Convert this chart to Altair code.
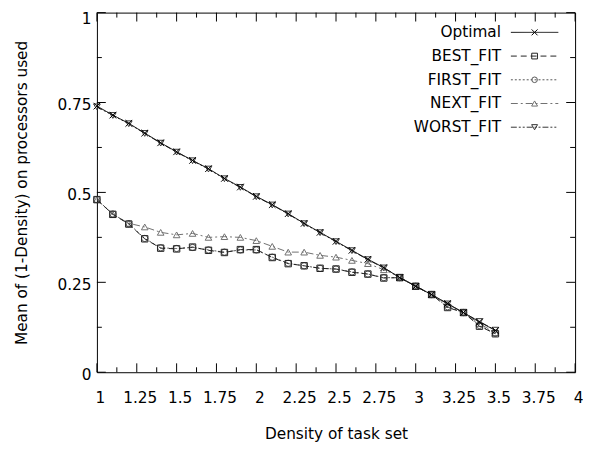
import altair as alt
import pandas as pd

# ---- data ----
x_vals = [1.0, 1.1, 1.2, 1.3, 1.4, 1.5, 1.6, 1.7, 1.8, 1.9, 2.0, 2.1, 2.2,
          2.3, 2.4, 2.5, 2.6, 2.7, 2.8, 2.9, 3.0, 3.1, 3.2, 3.3, 3.4, 3.5]

optimal = [0.740, 0.715, 0.692, 0.665, 0.638, 0.613, 0.589, 0.566, 0.539, 0.515,
           0.489, 0.466, 0.441, 0.414, 0.389, 0.364, 0.339, 0.314, 0.291, 0.263,
           0.239, 0.216, 0.191, 0.166, 0.140, 0.116]
best_fit = [0.480, 0.439, 0.412, 0.371, 0.345, 0.343, 0.348, 0.339, 0.333, 0.341,
            0.341, 0.319, 0.302, 0.296, 0.289, 0.287, 0.278, 0.273, 0.262, 0.263,
            0.239, 0.216, 0.180, 0.166, 0.128, 0.107]
first_fit = [0.480, 0.440, 0.413, 0.372, 0.346, 0.344, 0.347, 0.340, 0.334, 0.340,
             0.340, 0.320, 0.303, 0.296, 0.289, 0.287, 0.279, 0.273, 0.263, 0.263,
             0.239, 0.216, 0.182, 0.166, 0.130, 0.108]
next_fit = [0.480, 0.439, 0.414, 0.404, 0.389, 0.382, 0.386, 0.375, 0.377, 0.375,
            0.366, 0.350, 0.334, 0.334, 0.325, 0.320, 0.311, 0.302, 0.285, 0.265,
            0.239, 0.216, 0.188, 0.166, 0.135, 0.110]
worst_fit = [0.738, 0.714, 0.691, 0.664, 0.637, 0.612, 0.588, 0.565, 0.538, 0.514,
             0.488, 0.465, 0.440, 0.413, 0.388, 0.363, 0.338, 0.313, 0.290, 0.264,
             0.239, 0.215, 0.190, 0.165, 0.141, 0.117]

series_names = ["Optimal", "BEST_FIT", "FIRST_FIT", "NEXT_FIT", "WORST_FIT"]
series_values = [optimal, best_fit, first_fit, next_fit, worst_fit]

x_major = [1, 1.25, 1.5, 1.75, 2, 2.25, 2.5, 2.75, 3, 3.25, 3.5, 3.75, 4]
x_minor = [1.125, 1.375, 1.625, 1.875, 2.125, 2.375, 2.625, 2.875, 3.125,
           3.375, 3.625, 3.875]
y_major = [0, 0.25, 0.5, 0.75, 1]
y_minor = [0.125, 0.375, 0.625, 0.875]

x_title = "Density of task set"
y_title = "Mean of (1-Density) on processors used"

# ---- styles ----
W, H = 484, 364
FONT = "DejaVu Sans"
FS = 15.5
X_SHAPE = "M-1,-1L1,1M1,-1L-1,1"
styles = {
    "Optimal":   dict(color="#000000", dash=[1, 0], shape=X_SHAPE, size=45),
    "BEST_FIT":  dict(color="#222222", dash=[6, 4], shape="square", size=42),
    "FIRST_FIT": dict(color="#555555", dash=[2, 2], shape="circle", size=40),
    "NEXT_FIT":  dict(color="#707070", dash=[7, 3, 2, 3], shape="triangle-up", size=45),
    "WORST_FIT": dict(color="#333333", dash=[6, 2, 2, 2, 2, 2], shape="triangle-down", size=45),
}
draw_order = ["WORST_FIT", "NEXT_FIT", "FIRST_FIT", "BEST_FIT", "Optimal"]

xs = alt.Scale(domain=[1, 4], nice=False, zero=False)
ys = alt.Scale(domain=[0, 1], nice=False, zero=False)

xaxis = alt.Axis(values=x_major, labelExpr="toString(datum.value)", title=x_title,
                 grid=False, domain=False, ticks=False, tickSize=0, labelPadding=19,
                 labelOffset=3, labelFont=FONT, labelFontSize=FS,
                 labelColor="black", titleFont=FONT, titleFontSize=FS,
                 titleFontWeight="normal", titleColor="black",
                 titleY=62, titleBaseline="middle", labelFlush=False)
yaxis = alt.Axis(values=y_major, labelExpr="toString(datum.value)", title=y_title,
                 grid=False, domain=False, ticks=False, tickSize=0, labelPadding=6,
                 labelOffset={"condition": {"test": "datum.value == 1", "value": 6},
                              "value": 2},
                 labelFont=FONT, labelFontSize=FS,
                 labelColor="black", titleFont=FONT, titleFontSize=FS,
                 titleFontWeight="normal", titleColor="black",
                 titleX=-76, titleY=H / 2, titleAngle=270,
                 titleBaseline="middle", titleAlign="center", labelFlush=False)


def X(field):
    return alt.X(field, type="quantitative", scale=xs, axis=xaxis)


def Y(field):
    return alt.Y(field, type="quantitative", scale=ys, axis=yaxis)


layers = []

# tick marks (inward, on all four sides)
for vals, ln in ((x_major, 9), (x_minor, 5)):
    d = pd.DataFrame({"v": vals})
    layers.append(alt.Chart(d).mark_rule(color="black", strokeWidth=1).encode(
        x=X("v"), y=alt.value(H), y2=alt.value(H - ln)))
    layers.append(alt.Chart(d).mark_rule(color="black", strokeWidth=1).encode(
        x=X("v"), y=alt.value(0), y2=alt.value(ln)))
for vals, ln in ((y_major, 9), (y_minor, 5)):
    d = pd.DataFrame({"v": vals})
    layers.append(alt.Chart(d).mark_rule(color="black", strokeWidth=1).encode(
        y=Y("v"), x=alt.value(0), x2=alt.value(ln)))
    layers.append(alt.Chart(d).mark_rule(color="black", strokeWidth=1).encode(
        y=Y("v"), x=alt.value(W), x2=alt.value(W - ln)))

# series
for name in draw_order:
    st = styles[name]
    vals = series_values[series_names.index(name)]
    d = pd.DataFrame({"x": x_vals, "y": vals, "series": name})
    layers.append(alt.Chart(d).mark_line(color=st["color"], strokeWidth=1,
                                         strokeDash=st["dash"]).encode(
        x=X("x"), y=Y("y")))
    layers.append(alt.Chart(d).mark_point(shape=st["shape"], size=st["size"],
                                          color=st["color"], filled=False,
                                          strokeWidth=1, opacity=1).encode(
        x=X("x"), y=Y("y")))

# legend (top right, inside the plot)
LEG_TEXT_X, LEG_L, LEG_R, LEG_Y0, LEG_DY = 409, 419, 467, 20, 24
for i, name in enumerate(series_names):
    st = styles[name]
    ly = LEG_Y0 + LEG_DY * i
    d = pd.DataFrame({"series": [name]})
    layers.append(alt.Chart(d).mark_text(align="right", baseline="middle",
                                         font=FONT, fontSize=FS, color="black").encode(
        text="series:N", x=alt.value(LEG_TEXT_X), y=alt.value(ly)))
    layers.append(alt.Chart(d).mark_rule(color=st["color"], strokeWidth=1,
                                         strokeDash=st["dash"]).encode(
        x=alt.value(LEG_L), x2=alt.value(LEG_R), y=alt.value(ly)))
    layers.append(alt.Chart(d).mark_point(shape=st["shape"], size=st["size"] * 0.8,
                                          color=st["color"], filled=False,
                                          strokeWidth=1, opacity=1).encode(
        x=alt.value((LEG_L + LEG_R) / 2), y=alt.value(ly)))

chart = alt.layer(*layers).properties(
    width=W, height=H,
    autosize=alt.AutoSizeParams(type="none"),
    padding={"left": 90, "top": 2, "right": 8, "bottom": 72},
    background="white",
).configure_view(stroke="black", strokeWidth=1)

chart.save("out.html", embed_options={"renderer": "svg", "actions": False})
